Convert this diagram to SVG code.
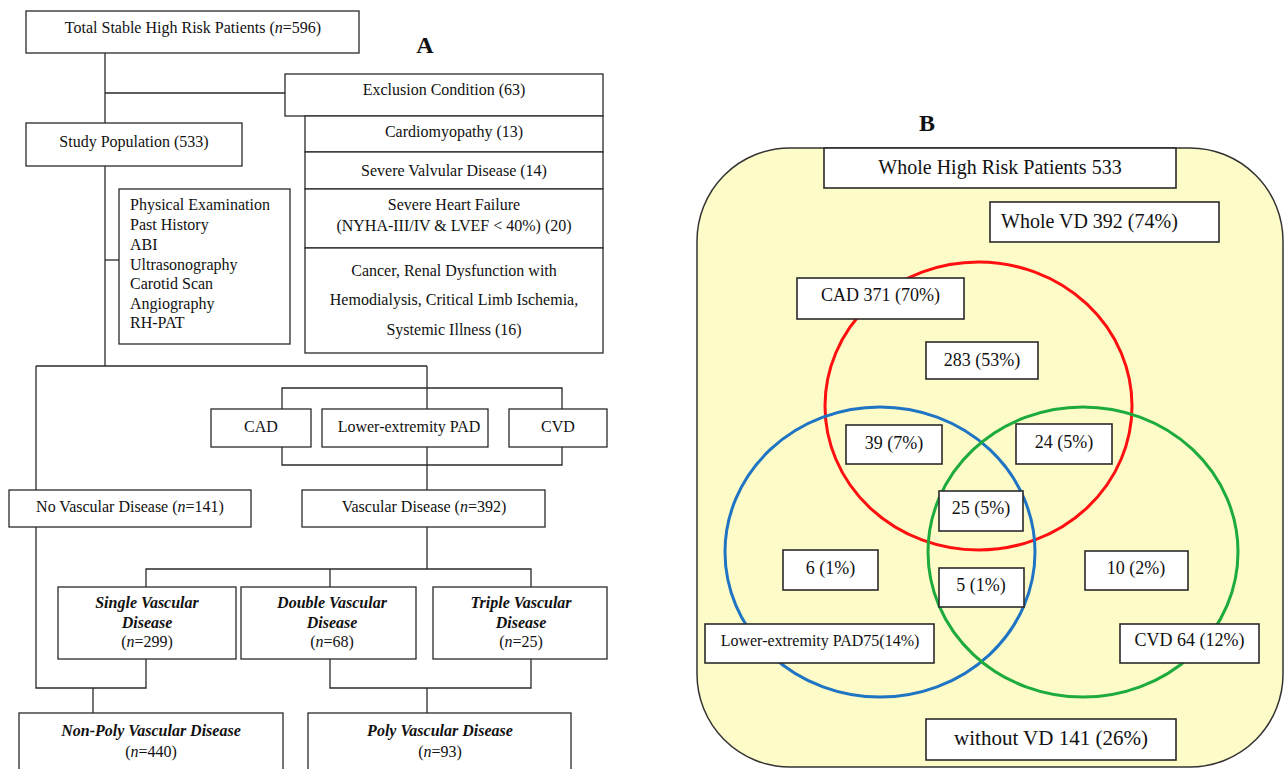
<svg xmlns="http://www.w3.org/2000/svg" width="1285" height="769" viewBox="0 0 1285 769">
<style>
  .bx { fill: #ffffff; stroke: #2a2a2a; stroke-width: 1.3; }
  .bb { fill: #ffffff; stroke: #2a2a2a; stroke-width: 1.6; }
  .ln { fill: none; stroke: #2a2a2a; stroke-width: 1.3; }
  text { font-family: "Liberation Serif", "Times New Roman", serif; fill: #111; }
  .t { font-size: 16px; text-anchor: middle; }
  .tl { font-size: 16px; }
  .bi { font-size: 16px; text-anchor: middle; font-weight: bold; font-style: italic; }
  .lab { font-size: 24px; font-weight: bold; text-anchor: middle; }
  .b18 { font-size: 18px; text-anchor: middle; }
  .b20 { font-size: 20px; text-anchor: middle; }
</style>
<rect x="0" y="0" width="1285" height="769" fill="#ffffff"/>

<!-- Panel A connectors -->
<g id="connectors-A">
  <path class="ln" d="M105,53 V123"/>
  <path class="ln" d="M105,93 H285"/>
  <path class="ln" d="M105,166 V366"/>
  <path class="ln" d="M105,260 H119"/>
  <path class="ln" d="M36,366 H427"/>
  <path class="ln" d="M36,366 V490"/>
  <path class="ln" d="M427,366 V409"/>
  <path class="ln" d="M282,409 V388 H562 V409"/>
  <path class="ln" d="M282,447 V465 H562 V447"/>
  <path class="ln" d="M427,447 V490"/>
  <path class="ln" d="M36,527 V688 H146 V659"/>
  <path class="ln" d="M427,527 V569"/>
  <path class="ln" d="M146,587 V569 H531 V587"/>
  <path class="ln" d="M330,569 V587"/>
  <path class="ln" d="M330,659 V688 H531 V659"/>
  <path class="ln" d="M427,688 V713"/>
  <path class="ln" d="M93,688 V713"/>
</g>

<text class="lab" x="425" y="53">A</text>

<g id="total">
  <rect class="bx" x="26" y="11" width="333" height="42"/>
  <text class="t" x="193" y="33">Total Stable High Risk Patients (<tspan font-style="italic">n</tspan>=596)</text>
</g>
<g id="exclusion">
  <rect class="bx" x="285" y="74" width="318" height="42"/>
  <text class="t" x="444" y="95">Exclusion Condition (63)</text>
</g>
<g id="cardiomyopathy">
  <rect class="bx" x="305" y="116" width="298" height="36"/>
  <text class="t" x="454" y="137">Cardiomyopathy (13)</text>
</g>
<g id="valvular">
  <rect class="bx" x="305" y="152" width="298" height="37"/>
  <text class="t" x="454" y="176">Severe Valvular Disease (14)</text>
</g>
<g id="heartfailure">
  <rect class="bx" x="305" y="189" width="298" height="59"/>
  <text class="t" x="454" y="210">Severe Heart Failure</text>
  <text class="t" x="454" y="231">(NYHA-III/IV &amp; LVEF &lt; 40%) (20)</text>
</g>
<g id="cancer">
  <rect class="bx" x="305" y="248" width="298" height="105"/>
  <text class="t" x="454" y="276">Cancer, Renal Dysfunction with</text>
  <text class="t" x="454" y="305">Hemodialysis, Critical Limb Ischemia,</text>
  <text class="t" x="454" y="335">Systemic Illness (16)</text>
</g>
<g id="study">
  <rect class="bx" x="26" y="123" width="216" height="43"/>
  <text class="t" x="134" y="147">Study Population (533)</text>
</g>
<g id="exams">
  <rect class="bx" x="119" y="189" width="171" height="155"/>
  <text class="tl" x="130" y="210">Physical Examination</text>
  <text class="tl" x="130" y="230">Past History</text>
  <text class="tl" x="130" y="250">ABI</text>
  <text class="tl" x="130" y="270">Ultrasonography</text>
  <text class="tl" x="130" y="289">Carotid Scan</text>
  <text class="tl" x="130" y="309">Angiography</text>
  <text class="tl" x="130" y="328">RH-PAT</text>
</g>
<g id="cad-a">
  <rect class="bx" x="211" y="409" width="100" height="38"/>
  <text class="t" x="261" y="432">CAD</text>
</g>
<g id="pad-a">
  <rect class="bx" x="322" y="409" width="166" height="38"/>
  <text class="t" x="409" y="432">Lower-extremity PAD</text>
</g>
<g id="cvd-a">
  <rect class="bx" x="509" y="409" width="98" height="38"/>
  <text class="t" x="558" y="432">CVD</text>
</g>
<g id="novd">
  <rect class="bx" x="9" y="490" width="242" height="37"/>
  <text class="t" x="130" y="512">No Vascular Disease (<tspan font-style="italic">n</tspan>=141)</text>
</g>
<g id="vd">
  <rect class="bx" x="302" y="490" width="243" height="37"/>
  <text class="t" x="424" y="512">Vascular Disease (<tspan font-style="italic">n</tspan>=392)</text>
</g>
<g id="single">
  <rect class="bx" x="58" y="587" width="178" height="72"/>
  <text class="bi" x="147" y="608">Single Vascular</text>
  <text class="bi" x="147" y="628">Disease</text>
  <text class="t" x="147" y="647">(<tspan font-style="italic">n</tspan>=299)</text>
</g>
<g id="double">
  <rect class="bx" x="241" y="587" width="175" height="72"/>
  <text class="bi" x="332" y="608">Double Vascular</text>
  <text class="bi" x="332" y="628">Disease</text>
  <text class="t" x="332" y="647">(<tspan font-style="italic">n</tspan>=68)</text>
</g>
<g id="triple">
  <rect class="bx" x="433" y="587" width="174" height="72"/>
  <text class="bi" x="521" y="608">Triple Vascular</text>
  <text class="bi" x="521" y="628">Disease</text>
  <text class="t" x="521" y="647">(<tspan font-style="italic">n</tspan>=25)</text>
</g>
<g id="nonpoly">
  <rect class="bx" x="19" y="713" width="264" height="70"/>
  <text class="bi" x="151" y="736">Non-Poly Vascular Disease</text>
  <text class="t" x="151" y="757">(<tspan font-style="italic">n</tspan>=440)</text>
</g>
<g id="poly">
  <rect class="bx" x="308" y="713" width="263" height="70"/>
  <text class="bi" x="440" y="736">Poly Vascular Disease</text>
  <text class="t" x="440" y="757">(<tspan font-style="italic">n</tspan>=93)</text>
</g>

<!-- Panel B -->
<text class="lab" x="927" y="131">B</text>
<g id="whole-bg">
  <rect x="697" y="148" width="586" height="619" rx="93" ry="93" fill="#fdfbc8" stroke="#333333" stroke-width="1.5"/>
</g>
<g id="circles">
  <ellipse cx="978.5" cy="406" rx="153.5" ry="144" fill="none" stroke="#ff1010" stroke-width="3"/>
  <ellipse cx="880" cy="552" rx="155" ry="145" fill="none" stroke="#1f74c4" stroke-width="3"/>
  <ellipse cx="1083" cy="552" rx="155" ry="145" fill="none" stroke="#1cab3c" stroke-width="3"/>
</g>
<g id="whole-hr">
  <rect class="bb" x="824" y="148" width="352" height="40"/>
  <text class="b20" x="1000" y="174">Whole High Risk  Patients 533</text>
</g>
<g id="whole-vd">
  <rect class="bb" x="990" y="202" width="229" height="40"/>
  <text x="1001" y="228" font-size="20">Whole VD 392 (74%)</text>
</g>
<g id="cad-b">
  <rect class="bb" x="797" y="278" width="167" height="41"/>
  <text class="b18" x="880.5" y="301">CAD 371 (70%)</text>
</g>
<g id="n283">
  <rect class="bb" x="926" y="342" width="112" height="37"/>
  <text class="b18" x="982" y="366">283 (53%)</text>
</g>
<g id="n39">
  <rect class="bb" x="846" y="425" width="96" height="39"/>
  <text class="b18" x="894" y="449">39 (7%)</text>
</g>
<g id="n24">
  <rect class="bb" x="1016" y="424" width="96" height="40"/>
  <text class="b18" x="1064" y="448">24 (5%)</text>
</g>
<g id="n25">
  <rect class="bb" x="939" y="491" width="84" height="40"/>
  <text class="b18" x="981" y="514">25 (5%)</text>
</g>
<g id="n6">
  <rect class="bb" x="783" y="550" width="95" height="40"/>
  <text class="b18" x="830.5" y="574">6 (1%)</text>
</g>
<g id="n5">
  <rect class="bb" x="939" y="568" width="85" height="39"/>
  <text class="b18" x="981" y="591">5 (1%)</text>
</g>
<g id="n10">
  <rect class="bb" x="1085" y="551" width="103" height="39"/>
  <text class="b18" x="1136" y="574">10 (2%)</text>
</g>
<g id="pad-b">
  <rect class="bb" x="705" y="624" width="229" height="39"/>
  <text class="t" x="820" y="646">Lower-extremity PAD75(14%)</text>
</g>
<g id="cvd-b">
  <rect class="bb" x="1120" y="624" width="139" height="39"/>
  <text class="b18" x="1189.5" y="646">CVD 64 (12%)</text>
</g>
<g id="without-vd">
  <rect class="bb" x="926" y="719" width="250" height="41"/>
  <text x="1051" y="745" font-size="21" text-anchor="middle">without VD 141 (26%)</text>
</g>
</svg>
